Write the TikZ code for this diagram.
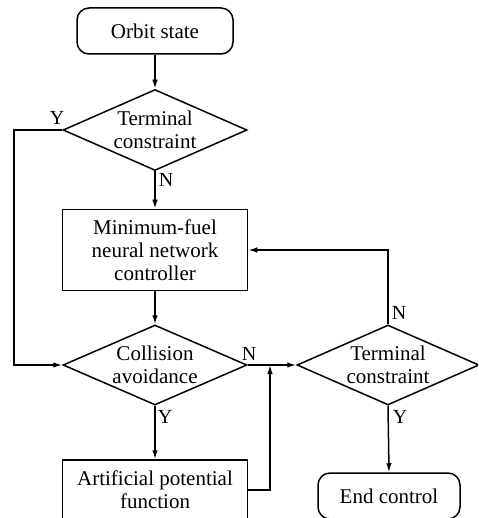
\documentclass[tikz,border=0pt]{standalone}
\usepackage{fontspec}
\setmainfont{Liberation Serif}
\usetikzlibrary{shapes.geometric,arrows.meta}
\begin{document}
\begin{tikzpicture}[x=1pt,y=-1pt,
  every node/.style={font=\fontsize{21}{23}\selectfont},
  ln/.style={line width=1.5pt},
  arr/.style={ln,-{Latex[length=9pt,width=5.5pt]}},
  term/.style={draw,line width=1.5pt,rounded corners=12pt,inner sep=0pt},
  proc/.style={draw,line width=1.5pt,inner sep=0pt,align=center},
  dec/.style={draw,line width=1.5pt,diamond,aspect=2.27,inner sep=0pt,align=center},
  lbl/.style={inner sep=0pt,font=\fontsize{20}{22}\selectfont}]
\useasboundingbox (0,0) rectangle (478,518);
\begin{scope}
\clip (0,0) rectangle (478,518);
\node[term,minimum width=156pt,minimum height=46pt] (orbit) at (155,31) {Orbit state};
\node[dec,minimum width=184pt,minimum height=81pt] (d1) at (155,130) {Terminal\\constraint};
\node[proc,minimum width=185pt,minimum height=81pt] (nn) at (155,250) {Minimum-fuel\\neural network\\controller};
\node[dec,minimum width=184pt,minimum height=80pt] (d2) at (155,365) {Collision\\avoidance};
\node[proc,minimum width=185pt,minimum height=60pt] (apf) at (155,490) {Artificial potential\\function};
\node[dec,minimum width=182pt,minimum height=80pt] (d3) at (388,365) {Terminal\\constraint};
\node[term,minimum width=142pt,minimum height=46pt] (end) at (389,496) {End control};
\coordinate (l1) at (14,130);
\coordinate (l2) at (14,365);
\coordinate (m1) at (270,490);
\coordinate (m2) at (270,365);
\coordinate (f1) at (388,250);

\draw[arr] (orbit.south) -- (d1.north);
\draw[arr] (d1.south) -- (nn.north);
\draw[arr] (nn.south) -- (d2.north);
\draw[arr] (d2.south) -- (apf.north);
\draw[arr] (d1.west) -- (l1) -- (l2) -- (d2.west);
\draw[arr] (d2.east) -- (d3.west);
\draw[arr] (apf.east) -- (m1) -- (m2);
\draw[arr] (d3.north) -- (f1) -- (nn.east);
\draw[arr] (d3.south) -- (end.north);

\node[lbl] (ly1) at (57,118) {Y};
\node[lbl] (ln1) at (166,180) {N};
\node[lbl] (ly2) at (165,417) {Y};
\node[lbl] (ln2) at (249,354) {N};
\node[lbl] (ln3) at (399,313) {N};
\node[lbl] (ly3) at (400,417) {Y};
\end{scope}
\end{tikzpicture}
\end{document}
